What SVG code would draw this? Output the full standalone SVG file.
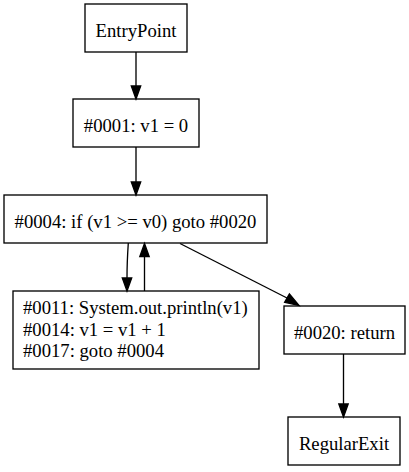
<svg xmlns="http://www.w3.org/2000/svg" width="409" height="472" viewBox="0 0 409 472">
<style>
.box{fill:#fff;stroke:#000;stroke-width:1.33}
.t{font-family:"Liberation Serif","Times New Roman",serif;font-size:18.67px;fill:#000}
.c{text-anchor:middle}
.e{fill:none;stroke:#000;stroke-width:1.33}
.h{fill:#000;stroke:#000;stroke-width:1.33}
</style>
<rect width="409" height="472" fill="#fff"/>
<g id="EntryPoint"><rect class="box" x="85" y="4" width="102" height="48"/><text class="t c" x="136" y="36.5">EntryPoint</text></g>
<g id="n0001"><rect class="box" x="73" y="99" width="126" height="48"/><text class="t c" x="136" y="131.5">#0001: v1 = 0</text></g>
<g id="n0004"><rect class="box" x="4" y="195" width="263" height="48"/><text class="t c" x="135.5" y="227.5">#0004: if (v1 &gt;= v0) goto #0020</text></g>
<g id="n0011"><rect class="box" x="13" y="291" width="246" height="78"/>
<text class="t" x="23" y="313.5">#0011: System.out.println(v1)</text>
<text class="t" x="23" y="335.5">#0014: v1 = v1 + 1</text>
<text class="t" x="23" y="357">#0017: goto #0004</text></g>
<g id="n0020"><rect class="box" x="284" y="306" width="121" height="48"/><text class="t c" x="344.5" y="339">#0020: return</text></g>
<g id="RegularExit"><rect class="box" x="288" y="417" width="112" height="48"/><text class="t c" x="344" y="449.5">RegularExit</text></g>
<g id="edges">
<path class="e" d="M136,52 L136,86"/><polygon class="h" points="131.3,86 140.7,86 136,99"/>
<path class="e" d="M136,147 L136,182"/><polygon class="h" points="131.3,182 140.7,182 136,195"/>
<path class="e" d="M128.3,243 C127.5,255 127,267 127,278"/><polygon class="h" points="122.3,278 131.7,278 127,291"/>
<path class="e" d="M144.5,291 L144.5,256.5"/><polygon class="h" points="139.8,256.5 149.2,256.5 144.5,243.5"/>
<path class="e" d="M180,243.5 L287,298"/><polygon class="h" points="284.6,302.3 289.4,293.8 299,305.5"/>
<path class="e" d="M343.5,354 L343.5,404"/><polygon class="h" points="338.8,404 348.2,404 343.5,417"/>
</g>
</svg>
